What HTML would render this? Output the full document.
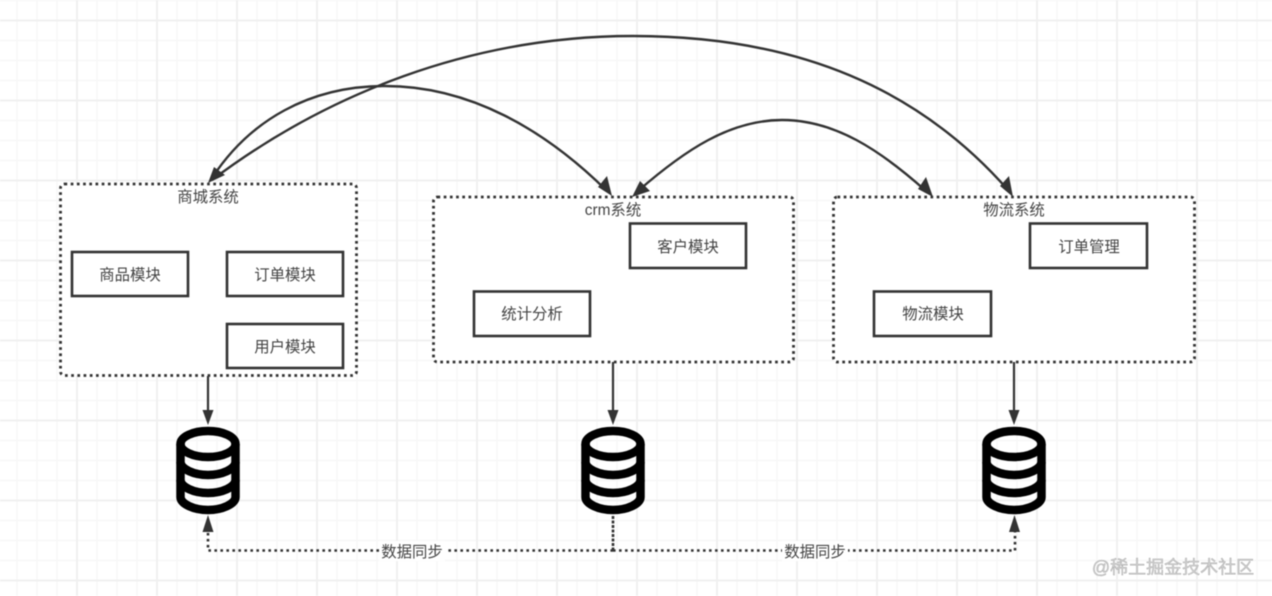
<!DOCTYPE html>
<html><head><meta charset="utf-8"><style>
html,body{margin:0;padding:0;background:#fff;width:1272px;height:596px;overflow:hidden}
svg{display:block;filter:blur(.45px)}
text{font-family:"Liberation Sans","Noto Sans CJK SC",sans-serif;font-size:15.4px;fill:#444;text-anchor:middle}
</style></head><body>
<svg width="1272" height="596" viewBox="0 0 1272 596" xmlns="http://www.w3.org/2000/svg">
<defs>
<pattern id="minor" width="20" height="20" patternUnits="userSpaceOnUse" x="7" y="10.5"><path d="M10 0V20M0 10H20" stroke="#f7f7f7" stroke-width="1.6" fill="none"/></pattern>
<pattern id="major" width="80" height="80" patternUnits="userSpaceOnUse" x="37" y="-19.5"><path d="M40 0V80M0 40H80" stroke="#f0f0f0" stroke-width="2" fill="none"/></pattern>
<g id="db" fill="none" stroke="#000" stroke-width="8.500">
<ellipse cx="0" cy="444" rx="27.500" ry="13"/>
<path d="M-27.500 444V497C-27.500 504 -14 510 0 510C14 510 27.500 504 27.500 497V444"/>
<path d="M-27.500 462C-27.500 469 -14 475 0 475C14 475 27.500 469 27.500 462"/>
<path d="M-27.500 480C-27.500 487 -14 493 0 493C14 493 27.500 487 27.500 480"/>
</g>
</defs>
<rect width="1272" height="596" fill="#fff"/>
<rect width="1272" height="596" fill="url(#minor)"/>
<rect width="1272" height="596" fill="url(#major)"/>

<g fill="#fff" stroke="#333" stroke-width="2.800" stroke-dasharray="2.700 3.500">
<rect x="60.5" y="184" width="296" height="191.500" rx="4"/>
<rect x="433.500" y="197" width="360" height="165" rx="4"/>
<rect x="833.500" y="197" width="361" height="165" rx="4"/>
</g>

<g fill="#fff" stroke="#333" stroke-width="2.600">
<rect x="72" y="252" width="116" height="44"/>
<rect x="227" y="252" width="116" height="44"/>
<rect x="227" y="324" width="116" height="44"/>
<rect x="630" y="223.500" width="116" height="44.500"/>
<rect x="474" y="291.500" width="116" height="44.500"/>
<rect x="1030" y="223.500" width="117" height="44.500"/>
<rect x="874" y="291.500" width="117" height="44.500"/>
</g>

<text x="208" y="202">商城系统</text>
<text x="613" y="215">crm系统</text>
<text x="1014" y="215">物流系统</text>
<text x="130" y="280">商品模块</text>
<text x="285" y="280">订单模块</text>
<text x="285" y="352">用户模块</text>
<text x="688" y="252">客户模块</text>
<text x="532" y="319">统计分析</text>
<text x="1089" y="252">订单管理</text>
<text x="933" y="319">物流模块</text>

<g fill="none" stroke="#333" stroke-width="2.400">
<path d="M212 178C250 120 310 86 385 86C470 86 545 130 606 190"/>
<path d="M212 180C325 95 470 36 633 36C800 36 920 90 1008 190"/>
<path d="M638 191C685 150 730 120 782 120C835 120 880 150 926 191"/>
</g>
<g fill="#333">
<path d="M208 183L214 167L225 175Z"/>
<path d="M612 196L598 187L607 176Z"/>
<path d="M1013 197L1000 186L1009 176Z"/>
<path d="M632 197L640 181L650 191Z"/>
<path d="M933 197L918 189L926 177Z"/>
</g>

<g stroke="#333" stroke-width="2.200">
<path d="M208 376V412M613 362V412M1014 362V412"/>
</g>
<g fill="#333">
<path d="M202.500 410H213.500L208 425Z"/>
<path d="M607.500 410H618.500L613 425Z"/>
<path d="M1008.500 410H1019.500L1014 425Z"/>
<path d="M202.500 532H213.500L208 515Z"/>
<path d="M1009 532H1020L1014.500 515Z"/>
</g>

<use href="#db" x="208"/>
<use href="#db" x="613"/>
<use href="#db" x="1014"/>

<g fill="none" stroke="#333" stroke-width="2.600" stroke-dasharray="2.600 3.400">
<path d="M613 550.500H208V532"/>
<path d="M613 550.500H1015V532"/>
<path d="M613 516V550" stroke-dasharray="3 1.500"/>
</g>
<rect x="379" y="541" width="66" height="20" fill="#fff"/>
<rect x="782" y="541" width="66" height="20" fill="#fff"/>
<text x="412" y="557">数据同步</text>
<text x="815" y="557">数据同步</text>

<text x="1173" y="573.500" style="font-size:18px;fill:#d0d0d0;stroke:#999;stroke-width:.3px">@稀土掘金技术社区</text>
</svg>
</body></html>
